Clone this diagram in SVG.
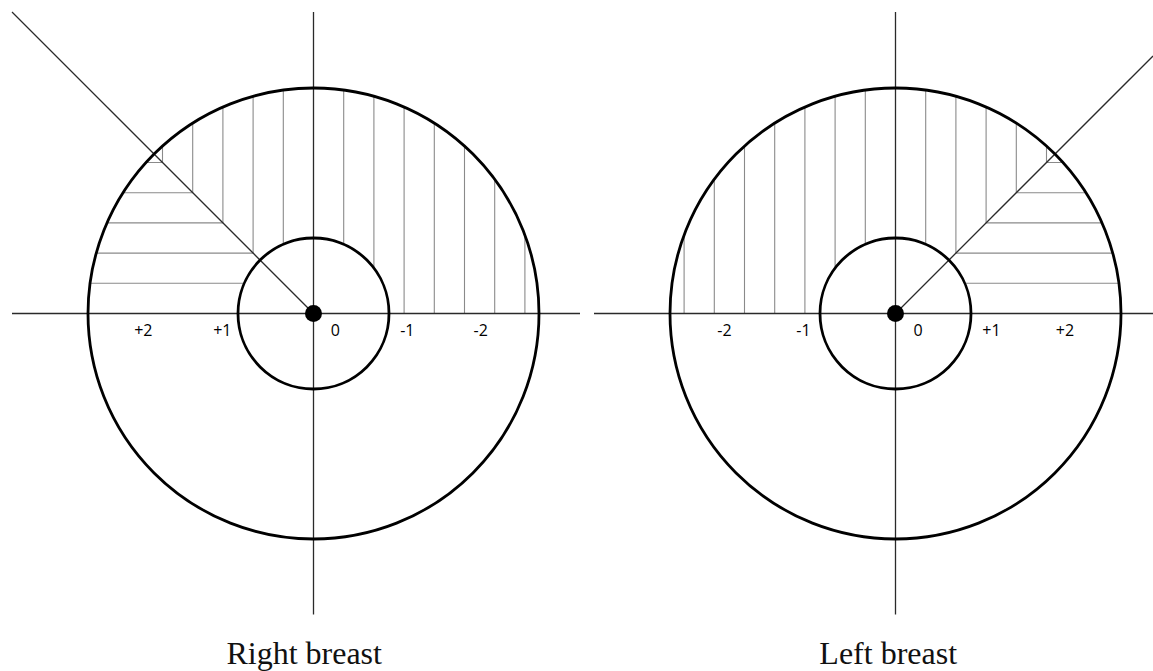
<svg xmlns="http://www.w3.org/2000/svg" width="1153" height="671" viewBox="0 0 1153 671">
<style>
.axis{stroke:#2a2a2a;stroke-width:1.3;fill:none}
.hatch{stroke:#8a8a8a;stroke-width:1.1;fill:none}
.ring{stroke:#000;stroke-width:2.8;fill:none}
.dot{fill:#000}
.lbl{font-family:"Open Sans","Liberation Sans",sans-serif;font-size:16px;fill:#000;text-anchor:middle}
.title{font-family:"Liberation Serif","Times New Roman",serif;font-size:32px;fill:#111;text-anchor:middle}
</style>
<defs>
<clipPath id="clipL" clipPathUnits="userSpaceOnUse">
<path clip-rule="evenodd" d="M88,313.5 a225.5,225.5 0 1 0 451,0 a225.5,225.5 0 1 0 -451,0 Z M238,313.5 a75.5,75.5 0 1 0 151,0 a75.5,75.5 0 1 0 -151,0 Z"/>
</clipPath>
<clipPath id="clipR" clipPathUnits="userSpaceOnUse">
<path clip-rule="evenodd" d="M670,313.5 a225.5,225.5 0 1 0 451,0 a225.5,225.5 0 1 0 -451,0 Z M820,313.5 a75.5,75.5 0 1 0 151,0 a75.5,75.5 0 1 0 -151,0 Z"/>
</clipPath>
</defs>
<rect width="1153" height="671" fill="#fff"/>

<g id="right-breast">
<g id="right-hatch" class="hatch" clip-path="url(#clipL)">
<line x1="283.3" y1="80" x2="283.3" y2="313.5"/>
<line x1="253.1" y1="80" x2="253.1" y2="253.1"/>
<line x1="222.9" y1="80" x2="222.9" y2="222.9"/>
<line x1="192.7" y1="80" x2="192.7" y2="192.7"/>
<line x1="162.5" y1="80" x2="162.5" y2="162.5"/>
<line x1="343.7" y1="80" x2="343.7" y2="313.5"/>
<line x1="373.9" y1="80" x2="373.9" y2="313.5"/>
<line x1="404.1" y1="80" x2="404.1" y2="313.5"/>
<line x1="434.3" y1="80" x2="434.3" y2="313.5"/>
<line x1="464.5" y1="80" x2="464.5" y2="313.5"/>
<line x1="494.7" y1="80" x2="494.7" y2="313.5"/>
<line x1="524.9" y1="80" x2="524.9" y2="313.5"/>
<line x1="80" y1="283.3" x2="313.5" y2="283.3"/>
<line x1="80" y1="253.1" x2="253.1" y2="253.1"/>
<line x1="80" y1="222.9" x2="222.9" y2="222.9"/>
<line x1="80" y1="192.7" x2="192.7" y2="192.7"/>
<line x1="80" y1="162.5" x2="162.5" y2="162.5"/>
</g>
<g id="right-axes" class="axis">
<line x1="12" y1="313.5" x2="580" y2="313.5"/>
<line x1="313.5" y1="12" x2="313.5" y2="614.5"/>
<line x1="12" y1="12" x2="313.5" y2="313.5"/>
</g>
<g id="right-rings">
<circle class="ring" cx="313.5" cy="313.5" r="225.5"/>
<circle class="ring" cx="313.5" cy="313.5" r="75.5"/>
<circle class="dot" cx="313.5" cy="313.5" r="8.5"/>
</g>
<g id="right-labels">
<text class="lbl" x="143.3" y="336">+2</text>
<text class="lbl" x="222.3" y="336">+1</text>
<text class="lbl" x="335.3" y="336">0</text>
<text class="lbl" x="407.3" y="336">-1</text>
<text class="lbl" x="480.7" y="336">-2</text>
<text class="title" x="304.2" y="664">Right breast</text>
</g>
</g>

<g id="left-breast">
<g id="left-hatch" class="hatch" clip-path="url(#clipR)">
<line x1="925.7" y1="80" x2="925.7" y2="313.5"/>
<line x1="955.9" y1="80" x2="955.9" y2="253.1"/>
<line x1="986.1" y1="80" x2="986.1" y2="222.9"/>
<line x1="1016.3" y1="80" x2="1016.3" y2="192.7"/>
<line x1="1046.5" y1="80" x2="1046.5" y2="162.5"/>
<line x1="865.3" y1="80" x2="865.3" y2="313.5"/>
<line x1="835.1" y1="80" x2="835.1" y2="313.5"/>
<line x1="804.9" y1="80" x2="804.9" y2="313.5"/>
<line x1="774.7" y1="80" x2="774.7" y2="313.5"/>
<line x1="744.5" y1="80" x2="744.5" y2="313.5"/>
<line x1="714.3" y1="80" x2="714.3" y2="313.5"/>
<line x1="684.1" y1="80" x2="684.1" y2="313.5"/>
<line x1="895.5" y1="283.3" x2="1130" y2="283.3"/>
<line x1="955.9" y1="253.1" x2="1130" y2="253.1"/>
<line x1="986.1" y1="222.9" x2="1130" y2="222.9"/>
<line x1="1016.3" y1="192.7" x2="1130" y2="192.7"/>
<line x1="1046.5" y1="162.5" x2="1130" y2="162.5"/>
</g>
<g id="left-axes" class="axis">
<line x1="594" y1="313.5" x2="1153" y2="313.5"/>
<line x1="895.5" y1="12" x2="895.5" y2="614.5"/>
<line x1="895.5" y1="313.5" x2="1153" y2="56"/>
</g>
<g id="left-rings">
<circle class="ring" cx="895.5" cy="313.5" r="225.5"/>
<circle class="ring" cx="895.5" cy="313.5" r="75.5"/>
<circle class="dot" cx="895.5" cy="313.5" r="8.5"/>
</g>
<g id="left-labels">
<text class="lbl" x="724.5" y="336">-2</text>
<text class="lbl" x="803.5" y="336">-1</text>
<text class="lbl" x="918" y="336">0</text>
<text class="lbl" x="991.5" y="336">+1</text>
<text class="lbl" x="1065" y="336">+2</text>
<text class="title" x="888.2" y="664">Left breast</text>
</g>
</g>
</svg>
